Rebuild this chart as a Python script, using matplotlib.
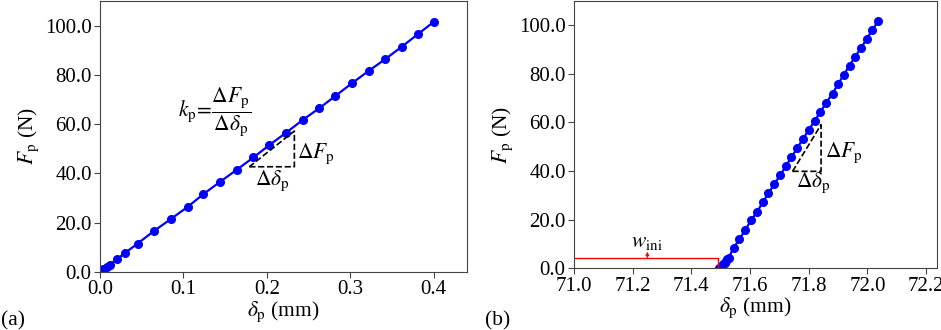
import matplotlib
matplotlib.use('Agg')
import matplotlib.pyplot as plt
import numpy as np

plt.rcParams['font.family'] = ['Liberation Serif', 'DejaVu Serif']
plt.rcParams['mathtext.fontset'] = 'stix'

# panel (a): F_p vs delta_p
delta_a = [0.0, 0.004, 0.008, 0.012, 0.02, 0.03, 0.045, 0.065, 0.085, 0.105, 0.124,
           0.144, 0.164, 0.184, 0.203, 0.223, 0.243, 0.263, 0.282, 0.302, 0.322,
           0.342, 0.362, 0.381, 0.4]
force_a = [0.0, 1.0, 2.0, 3.0, 5.1, 7.7, 11.5, 16.7, 21.5, 26.4, 31.6,
           36.6, 41.5, 46.5, 51.5, 56.5, 61.7, 66.5, 71.4, 76.6, 81.6,
           86.4, 91.5, 96.5, 101.5]

# panel (b): absolute displacement
delta_b = [71.495, 71.500, 71.505, 71.509, 71.514, 71.518, 71.523, 71.527, 71.544, 71.564,
           71.584, 71.603, 71.624, 71.643, 71.662, 71.682, 71.702, 71.722, 71.741,
           71.761, 71.781, 71.801, 71.820, 71.840, 71.860, 71.881, 71.900, 71.919,
           71.939, 71.958, 71.978, 71.998, 72.017, 72.0375]
force_b = [0.0, 0.4, 1.0, 1.65, 2.3, 3.0, 3.7, 4.4, 8.4, 12.1,
           15.8, 19.7, 23.2, 27.1, 30.8, 34.5, 38.2, 42.0, 45.8,
           49.5, 53.4, 57.1, 60.7, 64.4, 68.2, 71.9, 75.8, 79.6,
           83.4, 87.1, 90.6, 94.5, 98.2, 101.8]

w_ini_x = [71.0, 71.49, 71.49]
w_ini_y = [4.3, 4.3, 0.0]

fig = plt.figure(figsize=(9.41, 3.3), dpi=100)
ax1 = fig.add_axes([0.1063, 0.176, 0.39, 0.821])
ax2 = fig.add_axes([0.610, 0.187, 0.3857, 0.810])

tick_fs = 15
lab_fs = 15.5

for ax in (ax1, ax2):
    for s in ax.spines.values():
        s.set_color('#444444')
        s.set_linewidth(0.8)
    ax.tick_params(direction='out', length=4, width=0.8, color='#444444',
                   labelsize=tick_fs, pad=2)
    ax.set_ylim(0, 110)
    ax.set_yticks([0, 20, 40, 60, 80, 100])
    ax.set_yticklabels(['0.0', '20.0', '40.0', '60.0', '80.0', '100.0'])
    ax.set_ylabel(r'$F_{\rm p}$ (N)', fontsize=lab_fs, labelpad=3)
    ax.set_xlabel(r'$\delta_{\rm p}$ (mm)', fontsize=lab_fs, labelpad=0)

# (a)
ax1.plot(delta_a, force_a, '-o', color='blue', lw=1.6, ms=5.5)
ax1.set_xlim(0, 0.44)
ax1.set_xticks([0.0, 0.1, 0.2, 0.3, 0.4])
ax1.set_xticklabels(['0.0', '0.1', '0.2', '0.3', '0.4'])
ax1.plot([0.179, 0.233, 0.233, 0.179], [42.7, 42.7, 57.2, 42.7], 'k--', lw=1.2)
ax1.text(0.236, 48, r'$\Delta F_{\rm p}$', fontsize=lab_fs, va='center')
ax1.text(0.207, 37, r'$\Delta\delta_{\rm p}$', fontsize=lab_fs, ha='center', va='center')
ax1.text(0.094, 65, r'$k_{\rm p}\!=\!\dfrac{\Delta F_{\rm p}}{\Delta\delta_{\rm p}}$',
         fontsize=lab_fs, va='center')

# (b)
ax2.plot(delta_b, force_b, '-o', color='blue', lw=1.6, ms=5.5)
ax2.plot(w_ini_x, w_ini_y, color='red', lw=1.0)
ax2.annotate('', xy=(71.25, 6.8), xytext=(71.25, 4.3),
             arrowprops=dict(arrowstyle='-|>', color='red', lw=0.8,
                             mutation_scale=5, shrinkA=0, shrinkB=0))
ax2.text(71.25, 10.5, r'$w_{\rm ini}$', fontsize=lab_fs, ha='center', va='center')
ax2.set_xlim(71.0, 72.237)
ax2.set_xticks([71.0, 71.2, 71.4, 71.6, 71.8, 72.0, 72.2])
ax2.set_xticklabels(['71.0', '71.2', '71.4', '71.6', '71.8', '72.0', '72.2'])
ax2.plot([71.745, 71.842, 71.842, 71.745], [39.9, 39.9, 59.1, 39.9], 'k--', lw=1.2)
ax2.text(71.856, 47.5, r'$\Delta F_{\rm p}$', fontsize=lab_fs, va='center')
ax2.text(71.815, 35, r'$\Delta\delta_{\rm p}$', fontsize=lab_fs, ha='center', va='center')

fig.text(0.001, 0.015, '(a)', fontsize=lab_fs)
fig.text(0.515, 0.015, '(b)', fontsize=lab_fs)

fig.savefig('out.png', dpi=100)
